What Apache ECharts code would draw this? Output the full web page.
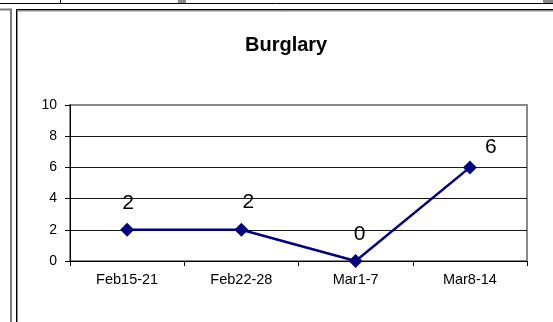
<!DOCTYPE html>
<html>
<head>
<meta charset="utf-8">
<script src="https://cdn.jsdelivr.net/npm/echarts@6/dist/echarts.min.js"></script>
<style>
  html, body { margin: 0; padding: 0; background: #fff; }
  #chart { width: 553px; height: 322px; }
</style>
</head>
<body>
<div id="chart"></div>
<script>
// Weekly burglary counts
const weeks = ['Feb15-21', 'Feb22-28', 'Mar1-7', 'Mar8-14'];
const burglaries = [2, 2, 0, 6];
const yTicks = [0, 2, 4, 6, 8, 10];

// Nudges for the value labels so they sit like the spreadsheet ones
const labelOffsets = [[1, 10], [7, 9], [4, 7], [21, 7]];
const labelDistances = [19, 19, 16, 10];

const chart = echarts.init(document.getElementById('chart'), null, { renderer: 'canvas' });

const font = 'Liberation Sans, Arial, sans-serif';

chart.setOption({
  animation: false,
  backgroundColor: '#fff',
  title: {
    text: 'Burglary',
    left: 240,
    top: 30,
    textStyle: { fontFamily: font, fontSize: 20, fontWeight: 'bold', color: '#000' }
  },
  grid: {
    left: 70, right: 26, top: 105, bottom: 61,
    show: true,
    borderColor: '#8a8a8a',
    borderWidth: 2,
    backgroundColor: '#fff'
  },
  xAxis: {
    type: 'category',
    data: weeks,
    boundaryGap: true,
    axisLine: { show: true, lineStyle: { color: '#000', width: 1 } },
    axisTick: { show: true, length: 5, inside: false, lineStyle: { color: '#000' } },
    axisLabel: { fontFamily: font, fontSize: 14.5, color: '#000', margin: 11 },
    splitLine: { show: false }
  },
  yAxis: {
    type: 'value',
    min: yTicks[0],
    max: yTicks[yTicks.length - 1],
    interval: 2,
    axisLine: { show: true, lineStyle: { color: '#000', width: 1 } },
    axisTick: { show: true, length: 5, lineStyle: { color: '#000' } },
    axisLabel: { fontFamily: font, fontSize: 14, color: '#000', margin: 13 },
    splitLine: {
      show: true,
      lineStyle: { color: ['#000', '#1a1a1a', '#1a1a1a', '#1a1a1a', '#1a1a1a', '#8a8a8a'], width: 1 }
    }
  },
  series: [{
    type: 'line',
    data: burglaries.map((v, i) => ({
      value: v,
      label: { offset: labelOffsets[i], distance: labelDistances[i] }
    })),
    symbol: 'diamond',
    symbolSize: 14,
    lineStyle: { color: '#000080', width: 2.5 },
    itemStyle: { color: '#000080' },
    label: {
      show: true,
      position: 'top',
      fontFamily: font,
      fontSize: 21,
      color: '#000'
    },
    z: 5
  }],
  graphic: [
    // sheet cell borders around the embedded chart
    { type: 'line', shape: { x1: 0, y1: 3.5, x2: 553, y2: 3.5 }, style: { stroke: '#000', lineWidth: 1 }, silent: true },
    { type: 'line', shape: { x1: 60.5, y1: 0, x2: 60.5, y2: 3 }, style: { stroke: '#000', lineWidth: 1 }, silent: true },
    { type: 'rect', shape: { x: 178, y: 0, width: 8, height: 3 }, style: { fill: '#8a8a8a' }, silent: true },
    { type: 'rect', shape: { x: 543, y: 0, width: 10, height: 3 }, style: { fill: '#8a8a8a' }, silent: true },
    { type: 'polyline', shape: { points: [[0, 9.5], [11, 9.5], [11, 322]] }, style: { stroke: '#7a7a7a', lineWidth: 2, fill: null }, silent: true },
    // chart area frame
    { type: 'polyline', shape: { points: [[17, 322], [17, 10.5], [553, 10.5]] }, style: { stroke: '#8a8a8a', lineWidth: 2, fill: null }, silent: true },
    { type: 'polyline', shape: { points: [[16.5, 322], [16.5, 9.5], [553, 9.5]] }, style: { stroke: '#000', lineWidth: 1, fill: null }, silent: true }
  ]
});
</script>
</body>
</html>
